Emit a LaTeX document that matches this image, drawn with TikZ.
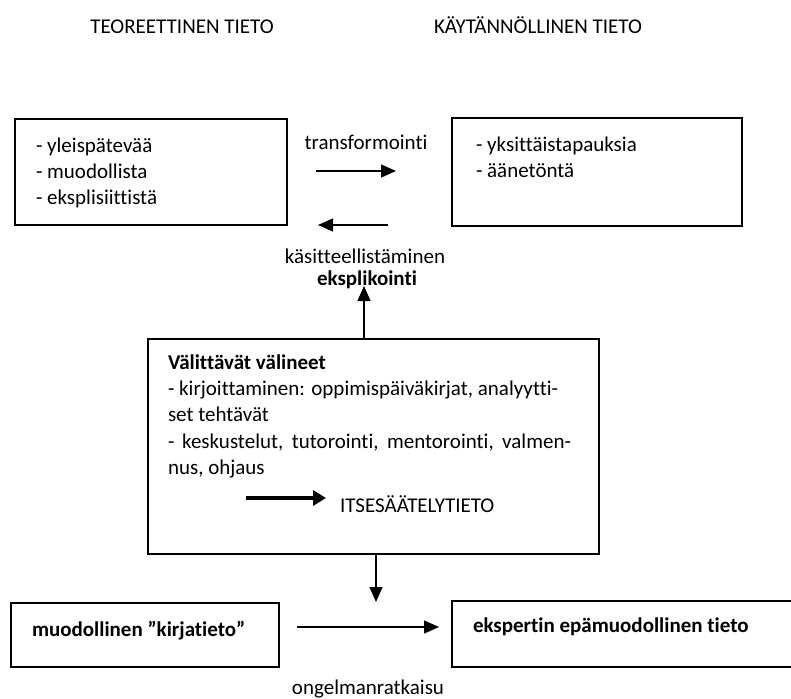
\documentclass[tikz,border=0pt]{standalone}
\usepackage{fontspec}
\setmainfont{Carlito}[Ligatures=CommonOff]
\usetikzlibrary{arrows.meta}
\begin{document}
\begin{tikzpicture}[x=1pt,y=-1pt,
  every node/.style={inner sep=0pt, outer sep=0pt},
  txt/.style={font=\fontsize{21}{26}\selectfont, anchor=base west},
  ctxt/.style={font=\fontsize{21}{26}\selectfont, anchor=base},
  frame/.style={draw, line width=1.5pt, rectangle, anchor=north west},
  link/.style={line width=1.5pt, -{Triangle[length=15pt,width=13pt]}},
  boldlink/.style={line width=3.5pt, -{Triangle[length=13pt,width=15pt]}},
]
\useasboundingbox (0,0) rectangle (791,698);

% column headings
\node[ctxt] (hteor) at (182,33.5) {TEOREETTINEN TIETO};
\node[ctxt] (hkayt) at (538,33.5) {KÄYTÄNNÖLLINEN TIETO};

% theoretical knowledge
\node[frame, minimum width=272pt, minimum height=106pt] (teoria) at (15,119) {};
\node[txt] (t1) at (36,152) {- yleispätevää};
\node[txt] (t2) at (36,178) {- muodollista};
\node[txt] (t3) at (36,204) {- eksplisiittistä};

% practical knowledge
\node[frame, minimum width=290pt, minimum height=108pt] (kaytanto) at (452,118) {};
\node[txt] (k1) at (476,151) {- yksittäistapauksia};
\node[txt] (k2) at (476,177) {- äänetöntä};

% transformation / conceptualisation between the two
\node[ctxt] (transf) at (366,149) {transformointi};
\coordinate (trA) at (316,171);
\coordinate (trB) at (396,171);
\draw[link] (trA) -- (trB);
\coordinate (ksA) at (388,225);
\coordinate (ksB) at (318,225);
\draw[link] (ksA) -- (ksB);
\node[ctxt] (kasit) at (365,263) {käsitteellistäminen};
\node[ctxt, font=\fontsize{21}{26}\selectfont\bfseries] (ekspl) at (367,285) {eksplikointi};

% mediating tools
\node[frame, minimum width=451pt, minimum height=215pt] (valineet) at (148,339) {};
\node[txt, font=\fontsize{21}{26}\selectfont\bfseries] (v0) at (168,369) {Välittävät välineet};
\node[txt] (v1) at (168,395) {- kirjoittaminen: oppimispäiväkirjat, analyytti-};
\node[txt] (v2) at (168,421.5) {set tehtävät};
\node[txt] (v3) at (168,448) {\makebox[403pt][s]{- keskustelut, tutorointi, mentorointi, valmen-}};
\node[txt] (v4) at (168,474.5) {nus, ohjaus};
\coordinate (itA) at (246,498);
\coordinate (itB) at (326,498);
\draw[boldlink] (itA) -- (itB);
\node[txt] (itse) at (340,512) {ITSESÄÄTELYTIETO};

\coordinate (upTip) at (364,286);
\draw[link] (valineet.north -| upTip) -- (upTip);
\coordinate (downTip) at (376,602);
\draw[link] (valineet.south -| downTip) -- (downTip);

% bottom row
\node[frame, minimum width=268pt, minimum height=64pt] (kirja) at (11,603) {};
\node[txt, font=\fontsize{21}{26}\selectfont\bfseries] (kirjat) at (32,636) {muodollinen ”kirjatieto”};
\node[frame, minimum width=345pt, minimum height=66pt] (ekspertti) at (452,601) {};
\node[txt, font=\fontsize{21}{26}\selectfont\bfseries] (eksp) at (473,632) {ekspertin epämuodollinen tieto};
\coordinate (orA) at (297,627);
\coordinate (orB) at (439,627);
\draw[link] (orA) -- (orB);
\node[ctxt] (ongel) at (368,694) {ongelmanratkaisu};
\end{tikzpicture}
\end{document}
